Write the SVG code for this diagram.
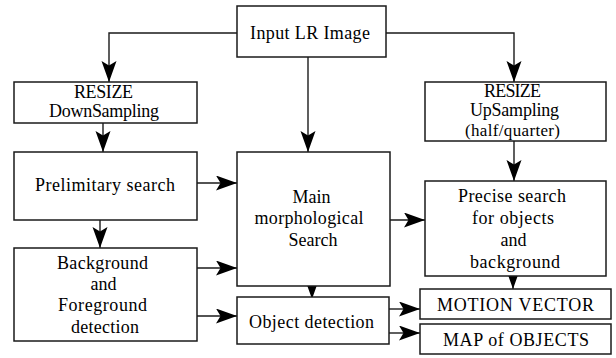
<svg xmlns="http://www.w3.org/2000/svg" width="616" height="358" viewBox="0 0 616 358">
<defs>
<style>
.box{fill:#fff;stroke:#1a1a1a;stroke-width:1.5}
.ln{fill:none;stroke:#1a1a1a;stroke-width:1.4;marker-end:url(#ah)}
.t{font-family:'Liberation Serif','DejaVu Serif',serif;font-size:18px;fill:#000;text-anchor:middle}
</style>
<marker id="ah" markerUnits="userSpaceOnUse" markerWidth="24" markerHeight="16" refX="21" refY="7.5" orient="auto">
<path d="M0,0 L21,7.5 L0,15 L4.5,7.5 Z" fill="#000"/>
</marker>
</defs>
<rect width="616" height="358" fill="#fff"/>
<g id="connectors">
<path class="ln" d="M237,33 H109 V82"/>
<path class="ln" d="M308,57 V152"/>
<path class="ln" d="M386,33 H514 V82"/>
<path class="ln" d="M103,123 V152"/>
<path class="ln" d="M514,141 V181"/>
<path class="ln" d="M197,183 H237"/>
<path class="ln" d="M100,220 V248"/>
<path class="ln" d="M197,268 H237"/>
<path class="ln" d="M197,316 H237"/>
<path class="ln" d="M390,220 H425"/>
<path class="ln" d="M312,278 V299"/>
<path class="ln" d="M513,265 V289"/>
<path class="ln" d="M389,309 H420"/>
<path class="ln" d="M389,333 H420"/>
</g>
<g class="t">
<g id="input"><rect class="box" x="237" y="6" width="149" height="51"/><text x="310" y="39" textLength="120">Input LR Image</text></g>
<g id="downsampling"><rect class="box" x="14" y="82" width="183" height="41"/><text x="103.5" y="98" textLength="59">RESIZE</text><text x="104" y="117" textLength="110">DownSampling</text></g>
<g id="upsampling"><rect class="box" x="425" y="82" width="181" height="59"/><text x="512.5" y="97" textLength="57">RESIZE</text><text x="514.5" y="116" textLength="89">UpSampling</text><text x="512.5" y="136" textLength="95" font-size="17">(half/quarter)</text></g>
<g id="preliminary"><rect class="box" x="14" y="152" width="183" height="68"/><text x="105" y="191" textLength="140">Prelimitary search</text></g>
<g id="main"><rect class="box" x="237" y="152" width="153" height="134"/><text x="311.5" y="203">Main</text><text x="309" y="224" textLength="109">morphological</text><text x="313" y="246">Search</text></g>
<g id="precise"><rect class="box" x="425" y="181" width="181" height="95"/><text x="512" y="202" textLength="108">Precise search</text><text x="513" y="224" textLength="82">for objects</text><text x="513.5" y="246">and</text><text x="515" y="268" textLength="90">background</text></g>
<g id="background"><rect class="box" x="14" y="248" width="183" height="93"/><text x="102.5" y="269" textLength="91">Background</text><text x="103.5" y="290">and</text><text x="102.5" y="311" textLength="89">Foreground</text><text x="105" y="333" textLength="68">detection</text></g>
<g id="object"><rect class="box" x="237" y="297" width="152" height="47"/><text x="311.5" y="328" textLength="125">Object detection</text></g>
<g id="motion"><rect class="box" x="420" y="289" width="191" height="30"/><text x="515.5" y="311" textLength="157">MOTION VECTOR</text></g>
<g id="map"><rect class="box" x="420" y="324" width="191" height="30"/><text x="516" y="346" textLength="146">MAP of OBJECTS</text></g>
</g>
</svg>
